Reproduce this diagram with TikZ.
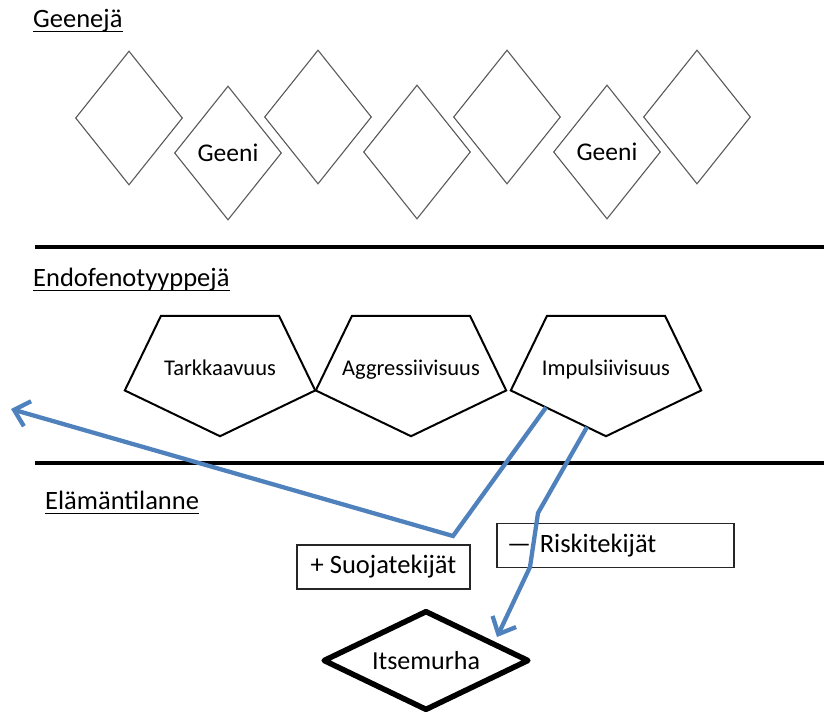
\documentclass[tikz,border=0pt]{standalone}
\usepackage{fontspec}
\setmainfont{Carlito}
\usetikzlibrary{shapes.geometric,arrows.meta,calc}

\definecolor{linkblue}{RGB}{79,129,189}

\tikzset{
  heading/.style={anchor=base west,inner sep=0pt,font=\fontsize{26.5}{31}\selectfont},
  uline/.style={line width=1.8pt},
  divider/.style={line width=3.2pt},
  genebox/.style={diamond,draw=black!65,line width=1.1pt,minimum width=107pt,minimum height=134pt,inner sep=0pt,font=\fontsize{25.5}{30}\selectfont},
  pentbox/.style={minimum width=190pt,minimum height=120pt,inner sep=0pt,text height=15pt,text depth=17pt,font=\fontsize{22.5}{27}\selectfont},
  factorbox/.style={draw=black!85,fill=white,line width=1.2pt,minimum height=44pt,font=\fontsize{26.5}{31}\selectfont},
  endbox/.style={diamond,draw,line width=5.5pt,line join=round,aspect=2,minimum width=206pt,minimum height=100pt,inner sep=0pt,font=\fontsize{26}{31}\selectfont},
  link/.style={draw=linkblue,line width=4.3pt,-{Straight Barb[length=14pt,width=26pt]}},
}

\begin{document}
\begin{tikzpicture}[x=1pt,y=-1pt]
\useasboundingbox (0,0) rectangle (824,716);

% headings
\node[heading] (geenit) at (33,27) {Geenejä};
\node[heading] (endo) at (33,286) {Endofenotyyppejä};
\node[heading] (elama) at (45,509) {Elämäntilanne};
\foreach \h in {geenit,endo,elama}
  \draw[uline] ([yshift=-4.5pt]\h.base west) -- ([yshift=-4.5pt]\h.base east);

% dividers
\draw[divider] (35,247) -- (824,247);
\draw[divider] (35,463) -- (824,463);

% genes
\foreach \x/\y/\t [count=\i] in {129/118/,228/153/Geeni,318/117/,417/152/,507/117/,607/152/Geeni,697/117/}
  \node[genebox] (gene\i) at (\x,\y) {\t};

% endophenotypes
\node[pentbox] (tark) at (220,376) {Tarkkaavuus};
\node[pentbox] (aggr) at (411,376) {Aggressiivisuus};
\node[pentbox] (impu) at (606,376) {Impulsiivisuus};
\foreach \n in {tark,aggr,impu}
  \draw[line width=2pt] ($(\n.north west)!0.19!(\n.north east)$) -- ($(\n.north west)!0.81!(\n.north east)$)
    -- ($(\n.north east)!0.62!(\n.south east)$) -- (\n.south) -- ($(\n.north west)!0.62!(\n.south west)$) -- cycle;

% life situation
\node[factorbox,minimum width=173pt] (suoja) at (383.5,567) {+ Suojatekijät};
\node[factorbox,text width=217pt,inner sep=10pt,align=left] (riski) at (615.5,545.5) {— Riskitekijät};
\node[endbox] (itse) at (426,660.5) {Itsemurha};

% links
\coordinate (impuleft) at ($(impu.north west)!0.62!(impu.south west)$);
\coordinate (protstart) at ($(impu.south)!0.63!(impuleft)$);
\coordinate (riskstart) at ($(impu.south)!0.2!(impuleft)$);
\coordinate (protbend) at (453,536);
\coordinate (prottip) at (11,409);
\coordinate (riskbend) at (538,513);
\coordinate (riskmid) at (530,567);
\coordinate (risktip) at (497,637);
\draw[link] (protstart) -- (protbend) -- (prottip);
\draw[link] (riskstart) -- (riskbend) -- (riskmid) -- (risktip);
\end{tikzpicture}
\end{document}
